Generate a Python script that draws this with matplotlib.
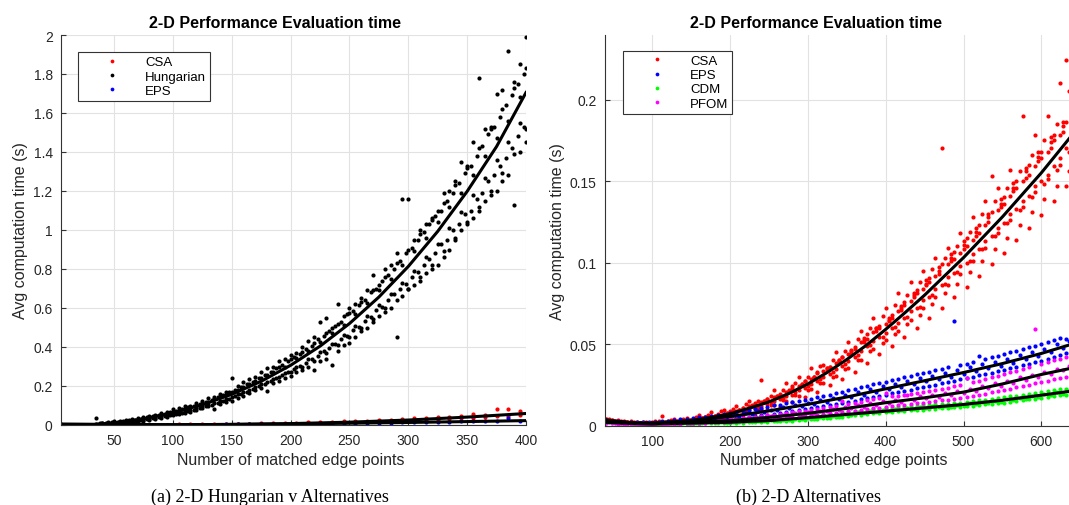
import numpy as np
import matplotlib.pyplot as plt
from matplotlib.ticker import FuncFormatter

plt.rcParams['font.family'] = ['Liberation Sans', 'DejaVu Sans']

# ---------------- left panel: Hungarian vs alternatives ----------------
hung_x = np.arange(35, 401, 5)
hung_r1 = [.035, .010, .014, .020, .022, .026, .030, .035, .040, .045,
           .052, .060, .068, .080, .085, .095, .100, .112, .125, .140,
           .145, .160, .170, .240, .200, .220, .235, .245, .270, .290,
           .300, .330, .340, .360, .370, .400, .430, .450, .530, .550,
           .500, .620, .560, .600, .620, .650, .690, .770, .720, .800,
           .820, .880, 1.160, 1.160, .950, 1.000, 1.030, 1.050, 1.100, 1.190,
           1.200, 1.250, 1.350, 1.320, 1.450, 1.780, 1.520, 1.530, 1.700, 1.720,
           1.920, 1.760, 1.850, 1.990]
hung_r2 = [.000, .002, .004, .005, .008, .012, .015, .018, .022, .027,
           .032, .038, .042, .050, .055, .062, .068, .075, .085, .095,
           .080, .110, .118, .125, .140, .150, .165, .180, .190, .175,
           .215, .225, .240, .250, .270, .280, .300, .280, .330, .340,
           .310, .380, .410, .420, .450, .480, .500, .530, .560, .580,
           .600, .450, .660, .700, .720, .740, .780, .800, .820, .860,
           .900, .950, 1.000, 1.030, 1.060, 1.100, 1.150, 1.180, 1.200, 1.250,
           1.280, 1.130, 1.400, 1.450]
hung_r3 = [.006, .008, .010, .013, .017, .020, .025, .028, .034, .040,
           .045, .052, .058, .066, .074, .082, .090, .100, .110, .120,
           .132, .142, .155, .168, .180, .195, .210, .225, .240, .255,
           .272, .300, .300, .340, .345, .375, .380, .420, .425, .470,
           .470, .520, .515, .575, .570, .630, .625, .690, .690, .760,
           .750, .830, .820, .900, .890, .980, .960, 1.060, 1.040, 1.140,
           1.120, 1.230, 1.190, 1.330, 1.280, 1.420, 1.380, 1.520, 1.470, 1.620,
           1.560, 1.730, 1.680, 1.830]
hung_r4 = [.002, .004, .006, .009, .012, .015, .019, .023, .028, .032,
           .038, .044, .050, .057, .063, .070, .078, .086, .095, .104,
           .114, .124, .134, .145, .157, .168, .182, .195, .208, .222,
           .238, .245, .268, .270, .300, .295, .338, .330, .375, .370,
           .415, .410, .460, .450, .510, .500, .560, .545, .615, .600,
           .670, .640, .730, .700, .790, .760, .860, .820, .930, .890,
           1.010, .960, 1.090, 1.040, 1.180, 1.120, 1.265, 1.200, 1.360, 1.290,
           1.450, 1.390, 1.550, 1.520]
hung_x2 = np.arange(38, 401, 5)
hung_r5 = [.008, .009, .013, .016, .020, .024, .028, .033, .039, .046,
           .052, .058, .066, .074, .082, .090, .098, .108, .120, .130,
           .142, .155, .168, .178, .195, .210, .222, .240, .258, .272,
           .290, .310, .330, .350, .365, .392, .405, .440, .455, .480,
           .510, .530, .570, .585, .615, .640, .680, .700, .740, .770,
           .800, .840, .880, .910, .950, .990, 1.030, 1.070, 1.100, 1.150,
           1.190, 1.240, 1.290, 1.330, 1.380, 1.430, 1.490, 1.530, 1.580, 1.640,
           1.690, 1.750, 1.800]
hung_r6 = [.003, .005, .007, .010, .013, .016, .020, .025, .029, .034,
           .040, .046, .051, .057, .064, .071, .079, .087, .095, .104,
           .115, .124, .134, .148, .158, .170, .185, .198, .210, .225,
           .240, .255, .270, .285, .305, .320, .340, .352, .380, .395,
           .415, .440, .455, .485, .505, .535, .555, .590, .605, .640,
           .670, .695, .725, .760, .785, .820, .850, .880, .930, .950,
           1.000, 1.030, 1.080, 1.100, 1.160, 1.190, 1.250, 1.280, 1.330, 1.370,
           1.420, 1.480, 1.530]
hung_fit_x = [35, 50, 75, 100, 125, 150, 175, 200, 225, 250, 275, 300, 325, 350, 375, 400]
hung_fit = [.004, .011, .031, .063, .104, .157, .224, .306, .404, .520, .656, .813, .993,
            1.198, 1.428, 1.705]

alt_x = np.arange(5, 400, 10)
csa_l1 = [.003, .002, .002, .002, .002, .002, .002, .002, .002, .002,
          .003, .003, .004, .004, .005, .006, .007, .008, .009, .010,
          .012, .013, .015, .016, .018, .020, .023, .024, .028, .030,
          .034, .036, .040, .043, .047, .055, .052, .080, .082, .070]
csa_l2 = [.001, .001, .001, .001, .001, .001, .001, .001, .001, .001,
          .001, .001, .001, .002, .002, .003, .003, .004, .004, .005,
          .006, .007, .008, .009, .011, .012, .014, .016, .018, .021,
          .023, .026, .028, .031, .034, .038, .041, .045, .048, .052]
eps_l = [.001, .001, .001, .001, .001, .001, .001, .001, .001, .001,
         .002, .002, .002, .002, .003, .003, .004, .004, .005, .005,
         .006, .006, .007, .008, .009, .010, .010, .011, .012, .013,
         .014, .015, .016, .017, .018, .019, .020, .021, .035, .022]
alt_fit_x = [5, 50, 100, 150, 200, 250, 300, 350, 400]
csa_fit_l = [.004, .003, .0013, .003, .0072, .0145, .0255, .0405, .059]
eps_fit_l = [.004, .002, .0015, .003, .0055, .009, .013, .0175, .0225]

# ---------------- right panel: alternatives ----------------
rx = np.arange(40, 633, 8)
rx2 = np.arange(44, 637, 8)
csa_r1 = [.0040, .0032, .0032, .0025, .0028, .0020, .0024, .0018, .0025, .0060,
          .0025, .0038, .0030, .0048, .0040, .0062, .0052, .0080, .0068, .0095,
          .0085, .0120, .0105, .0150, .0130, .0280, .0165, .0215, .0190, .0260,
          .0240, .0300, .0270, .0355, .0330, .0370, .0360, .0450, .0420, .0510,
          .0470, .0580, .0530, .0660, .0600, .0720, .0660, .0810, .0740, .0880,
          .0810, .0950, .0880, .1030, .1700, .1090, .1020, .1180, .1100, .1280,
          .1180, .1380, .1530, .1460, .1360, .1570, .1460, .1900, .1540, .1780,
          .1640, .1900, .1750, .2100, .2240]
csa_r2 = [.0025, .0020, .0019, .0013, .0013, .0009, .0011, .0008, .0009, .0012,
          .0011, .0016, .0015, .0021, .0018, .0028, .0027, .0038, .0036, .0050,
          .0048, .0064, .0062, .0082, .0079, .0102, .0096, .0124, .0115, .0150,
          .0142, .0182, .0172, .0222, .0205, .0262, .0248, .0305, .0285, .0350,
          .0330, .0400, .0385, .0470, .0440, .0525, .0490, .0580, .0540, .0650,
          .0600, .0720, .0660, .0790, .0720, .0860, .0790, .0930, .0850, .1010,
          .0920, .1090, .0990, .1180, .1060, .1260, .1140, .1340, .1210, .1430,
          .1290, .1510, .1380, .1600, .1470]
csa_r3 = [.0037, .0028, .0026, .0021, .0019, .0013, .0017, .0012, .0016, .0013,
          .0022, .0019, .0029, .0025, .0037, .0034, .0051, .0046, .0066, .0060,
          .0086, .0079, .0110, .0100, .0135, .0122, .0165, .0150, .0195, .0180,
          .0232, .0215, .0275, .0255, .0322, .0300, .0360, .0345, .0418, .0395,
          .0480, .0455, .0560, .0520, .0610, .0570, .0680, .0630, .0755, .0700,
          .0830, .0770, .0905, .0840, .0990, .0910, .1065, .0980, .1150, .1050,
          .1230, .1130, .1310, .1210, .1400, .1300, .1500, .1380, .1600, .1470,
          .1680, .1540, .1780, .1640, .1860]
csa_r4 = [.0030, .0033, .0020, .0024, .0014, .0018, .0011, .0016, .0010, .0018,
          .0014, .0025, .0020, .0032, .0026, .0043, .0038, .0058, .0050, .0073,
          .0064, .0092, .0085, .0118, .0108, .0145, .0132, .0172, .0160, .0205,
          .0190, .0240, .0228, .0285, .0270, .0335, .0318, .0385, .0365, .0440,
          .0420, .0510, .0485, .0575, .0545, .0625, .0600, .0700, .0660, .0765,
          .0720, .0840, .0790, .0915, .0860, .0990, .0935, .1060, .1000, .1140,
          .1080, .1230, .1160, .1320, .1240, .1410, .1330, .1500, .1410, .1590,
          .1500, .1680, .1590, .1780, .1700]
csa_r5 = [.0042, .0030, .0030, .0022, .0024, .0018, .0022, .0020, .0026, .0022,
          .0032, .0028, .0040, .0036, .0052, .0046, .0066, .0058, .0090, .0078,
          .0104, .0095, .0130, .0120, .0150, .0150, .0180, .0178, .0220, .0210,
          .0260, .0250, .0300, .0295, .0365, .0340, .0400, .0395, .0460, .0445,
          .0530, .0510, .0600, .0580, .0670, .0640, .0740, .0710, .0800, .0790,
          .0880, .0860, .0960, .0930, .1030, .1010, .1100, .1080, .1190, .1160,
          .1300, .1250, .1380, .1340, .1460, .1440, .1560, .1520, .1660, .1620,
          .1750, .1700, .1850, .1800, .2050]
csa_r6 = [.0028, .0024, .0018, .0019, .0012, .0015, .0010, .0016, .0011, .0019,
          .0015, .0026, .0021, .0034, .0028, .0046, .0039, .0060, .0052, .0078,
          .0066, .0098, .0086, .0124, .0108, .0150, .0128, .0180, .0158, .0215,
          .0185, .0255, .0220, .0300, .0262, .0350, .0300, .0400, .0345, .0465,
          .0400, .0535, .0455, .0600, .0505, .0660, .0560, .0735, .0620, .0810,
          .0680, .0890, .0745, .0970, .0810, .1050, .0870, .1130, .0940, .1210,
          .1010, .1300, .1080, .1390, .1150, .1490, .1230, .1580, .1310, .1680,
          .1390, .1770, .1470, .1860, .1560]
csa_r7 = [.0034, .0029, .0020, .0019, .0015, .0016, .0012, .0015, .0013, .0018,
          .0017, .0024, .0023, .0031, .0032, .0043, .0044, .0057, .0057, .0072,
          .0074, .0094, .0096, .0120, .0118, .0146, .0142, .0176, .0170, .0212,
          .0204, .0252, .0242, .0298, .0285, .0350, .0330, .0400, .0378, .0460,
          .0430, .0525, .0495, .0600, .0545, .0650, .0605, .0720, .0665, .0800,
          .0730, .0870, .0800, .0950, .0870, .1030, .0940, .1110, .1010, .1190,
          .1080, .1280, .1160, .1360, .1240, .1460, .1320, .1560, .1400, .1650,
          .1480, .1740, .1570, .1840, .1680]
eps_r1 = [.0035, .0030, .0026, .0023, .0020, .0020, .0021, .0022, .0024, .0027,
          .0030, .0033, .0037, .0041, .0045, .0050, .0055, .0060, .0065, .0070,
          .0074, .0080, .0087, .0093, .0100, .0106, .0113, .0125, .0128, .0135,
          .0142, .0150, .0157, .0165, .0172, .0180, .0188, .0200, .0205, .0215,
          .0225, .0235, .0245, .0252, .0260, .0268, .0278, .0286, .0296, .0304,
          .0313, .0325, .0330, .0340, .0348, .0356, .0640, .0372, .0380, .0390,
          .0426, .0408, .0418, .0428, .0438, .0448, .0458, .0470, .0480, .0490,
          .0500, .0512, .0522, .0535, .0530]
eps_r2 = [.0025, .0022, .0018, .0015, .0013, .0011, .0010, .0010, .0011, .0012,
          .0013, .0015, .0017, .0019, .0021, .0024, .0027, .0030, .0033, .0036,
          .0040, .0044, .0048, .0052, .0057, .0062, .0067, .0072, .0078, .0083,
          .0089, .0094, .0100, .0106, .0112, .0118, .0125, .0131, .0138, .0145,
          .0152, .0160, .0167, .0174, .0182, .0190, .0197, .0205, .0213, .0220,
          .0228, .0236, .0244, .0251, .0259, .0267, .0275, .0283, .0291, .0299,
          .0308, .0316, .0325, .0333, .0342, .0351, .0360, .0369, .0378, .0388,
          .0398, .0410, .0422, .0435, .0447]
eps_r3 = [.0030, .0022, .0022, .0016, .0017, .0014, .0017, .0014, .0019, .0018,
          .0024, .0021, .0029, .0027, .0036, .0034, .0045, .0042, .0053, .0050,
          .0062, .0060, .0074, .0070, .0087, .0082, .0098, .0095, .0112, .0106,
          .0126, .0118, .0140, .0132, .0154, .0145, .0170, .0160, .0186, .0176,
          .0205, .0190, .0222, .0206, .0240, .0222, .0256, .0238, .0273, .0255,
          .0290, .0270, .0305, .0286, .0322, .0300, .0340, .0316, .0356, .0333,
          .0375, .0350, .0392, .0366, .0410, .0385, .0432, .0405, .0452, .0428,
          .0470, .0450, .0500, .0475, .0520]
cdm_r1 = [.0024, .0022, .0020, .0018, .0017, .0016, .0015, .0014, .0014, .0015,
          .0016, .0017, .0018, .0019, .0020, .0021, .0022, .0023, .0024, .0025,
          .0026, .0027, .0029, .0031, .0033, .0035, .0037, .0040, .0042, .0045,
          .0047, .0050, .0053, .0057, .0060, .0064, .0068, .0073, .0077, .0082,
          .0087, .0092, .0097, .0101, .0104, .0107, .0110, .0113, .0115, .0118,
          .0120, .0123, .0126, .0129, .0132, .0134, .0138, .0141, .0145, .0149,
          .0154, .0159, .0163, .0168, .0173, .0178, .0183, .0188, .0194, .0199,
          .0203, .0210, .0216, .0222, .0227]
cdm_r2 = [.0016, .0014, .0012, .0010, .0009, .0008, .0007, .0006, .0006, .0007,
          .0008, .0009, .0010, .0011, .0011, .0012, .0013, .0013, .0014, .0014,
          .0015, .0016, .0017, .0019, .0020, .0022, .0023, .0025, .0027, .0028,
          .0030, .0032, .0034, .0037, .0040, .0043, .0047, .0051, .0055, .0059,
          .0063, .0067, .0072, .0076, .0079, .0082, .0085, .0088, .0090, .0093,
          .0095, .0097, .0100, .0103, .0105, .0108, .0111, .0114, .0117, .0121,
          .0125, .0129, .0133, .0137, .0141, .0146, .0151, .0156, .0160, .0165,
          .0170, .0175, .0180, .0185, .0190]
cdm_r3 = [.0021, .0015, .0017, .0011, .0014, .0009, .0012, .0008, .0012, .0009,
          .0014, .0011, .0016, .0012, .0017, .0014, .0019, .0015, .0020, .0017,
          .0022, .0019, .0025, .0022, .0028, .0025, .0032, .0029, .0036, .0033,
          .0041, .0037, .0046, .0042, .0052, .0048, .0061, .0055, .0069, .0064,
          .0080, .0074, .0088, .0082, .0095, .0090, .0100, .0095, .0106, .0101,
          .0112, .0106, .0117, .0111, .0122, .0116, .0128, .0122, .0135, .0129,
          .0143, .0137, .0152, .0145, .0160, .0154, .0171, .0163, .0181, .0174,
          .0192, .0186, .0203, .0196, .0212]
pfom_r1 = [.0024, .0022, .0020, .0018, .0017, .0016, .0015, .0014, .0014, .0016,
           .0018, .0020, .0022, .0024, .0026, .0028, .0031, .0033, .0035, .0037,
           .0039, .0042, .0046, .0050, .0054, .0058, .0062, .0067, .0072, .0077,
           .0082, .0087, .0092, .0097, .0103, .0109, .0115, .0121, .0150, .0134,
           .0140, .0147, .0154, .0160, .0166, .0200, .0178, .0184, .0190, .0196,
           .0202, .0208, .0214, .0220, .0226, .0232, .0240, .0248, .0290, .0266,
           .0276, .0286, .0296, .0306, .0316, .0326, .0336, .0348, .0360, .0590,
           .0380, .0390, .0400, .0410, .0420]
pfom_r2 = [.0016, .0014, .0012, .0011, .0010, .0009, .0008, .0007, .0007, .0008,
           .0010, .0011, .0012, .0014, .0015, .0016, .0018, .0019, .0020, .0022,
           .0023, .0025, .0028, .0031, .0034, .0036, .0039, .0042, .0045, .0048,
           .0052, .0055, .0058, .0062, .0066, .0070, .0074, .0078, .0083, .0087,
           .0091, .0096, .0101, .0105, .0110, .0115, .0119, .0124, .0128, .0133,
           .0137, .0141, .0146, .0150, .0155, .0159, .0164, .0169, .0175, .0182,
           .0189, .0196, .0204, .0211, .0218, .0226, .0234, .0243, .0251, .0260,
           .0268, .0276, .0284, .0292, .0300]
pfom_r3 = [.0021, .0015, .0017, .0011, .0014, .0009, .0012, .0008, .0013, .0011,
           .0017, .0014, .0020, .0017, .0024, .0020, .0028, .0023, .0031, .0027,
           .0035, .0031, .0042, .0038, .0049, .0044, .0056, .0051, .0066, .0059,
           .0074, .0067, .0083, .0076, .0092, .0086, .0103, .0096, .0114, .0106,
           .0124, .0116, .0136, .0128, .0148, .0137, .0158, .0146, .0190, .0156,
           .0178, .0166, .0188, .0176, .0198, .0186, .0210, .0198, .0224, .0212,
           .0240, .0228, .0258, .0245, .0272, .0262, .0295, .0282, .0312, .0300,
           .0330, .0318, .0348, .0338, .0365]

csa_fit_x = [40, 60, 80, 100, 125, 150, 175, 200, 225, 250, 275, 300, 325, 350, 375,
             400, 425, 450, 475, 500, 525, 550, 575, 600, 640]
csa_fit = [.0035, .0022, .0015, .0013, .0019, .0030, .0049, .0072, .0107, .0145, .0195,
           .0255, .0326, .0405, .0492, .0590, .0693, .0800, .0915, .1030, .1155, .1280,
           .1415, .1550, .1785]
lin_fit_x = [40, 80, 100, 150, 200, 250, 300, 350, 400, 450, 500, 550, 600, 640]
eps_fit = [.003, .0015, .0015, .003, .0055, .009, .013, .0175, .0225, .0275, .0325, .038,
           .0442, .050]
pfom_fit = [.002, .0012, .001, .002, .003, .005, .0075, .0105, .014, .017, .0205, .0255,
            .0313, .0353]
cdm_fit = [.002, .0012, .001, .0015, .002, .003, .0048, .0068, .0088, .0108, .0129, .0155,
           .0186, .0212]

fig = plt.figure(figsize=(10.69, 5.06), dpi=100)
ax1 = fig.add_axes([61 / 1069, 80 / 506, 465 / 1069, 390 / 506])
ax2 = fig.add_axes([605 / 1069, 79.5 / 506, 464 / 1069, 390.5 / 506])

txt = '#262626'
dot = dict(ls='none', marker='o', ms=3.0, mec='none')


def style(ax):
    ax.grid(True, color='#e2e2e2', lw=0.8)
    ax.set_axisbelow(True)
    for s in ['top', 'right']:
        ax.spines[s].set_visible(False)
    for s in ['left', 'bottom']:
        ax.spines[s].set_color('#333333')
        ax.spines[s].set_linewidth(0.8)
    ax.tick_params(direction='in', length=3.5, width=0.8, colors='#333333',
                   labelcolor=txt, labelsize=10, pad=6)
    ax.yaxis.set_major_formatter(FuncFormatter(lambda v, p: f'{v:g}'))


# left
style(ax1)
ax1.plot(np.tile(alt_x, 2), csa_l1 + csa_l2, color='red', label='CSA', **dot)
ax1.plot(np.concatenate([np.tile(hung_x, 4), np.tile(hung_x2, 2)]),
         hung_r1 + hung_r2 + hung_r3 + hung_r4 + hung_r5 + hung_r6,
         color='black', label='Hungarian', **dot)
ax1.plot(alt_x, eps_l, color='blue', label='EPS', **dot)
ax1.plot(hung_fit_x, hung_fit, color='black', lw=2.2)
ax1.plot(alt_fit_x, csa_fit_l, color='black', lw=2.2)
ax1.plot(alt_fit_x, eps_fit_l, color='black', lw=2.2)
ax1.set_xlim(5, 400)
ax1.set_ylim(0, 2)
ax1.set_xticks(np.arange(50, 401, 50))
ax1.set_yticks(np.arange(0, 2.01, 0.2))
ax1.set_title('2-D Performance Evaluation time', fontsize=11.5, fontweight='bold',
              x=0.46, pad=6)
ax1.set_xlabel('Number of matched edge points', fontsize=11.5, color=txt)
ax1.set_ylabel('Avg computation time (s)', fontsize=11.5, color=txt)
ax1.xaxis.set_label_coords(0.495, -0.068)
ax1.yaxis.set_label_coords(-0.071, 0.5)

# right
style(ax2)
ax2.plot(np.concatenate([np.tile(rx, 4), np.tile(rx2, 3)]),
         csa_r1 + csa_r2 + csa_r3 + csa_r4 + csa_r5 + csa_r6 + csa_r7,
         color='red', label='CSA', **dot)
ax2.plot(np.concatenate([rx, rx, rx2]), eps_r1 + eps_r2 + eps_r3, color='blue',
         label='EPS', **dot)
ax2.plot(np.concatenate([rx, rx, rx2]), cdm_r1 + cdm_r2 + cdm_r3, color='#00ff00',
         label='CDM', **dot)
ax2.plot(np.concatenate([rx, rx, rx2]), pfom_r1 + pfom_r2 + pfom_r3, color='magenta',
         label='PFOM', **dot)
ax2.plot(csa_fit_x, csa_fit, color='black', lw=2.2)
ax2.plot(lin_fit_x, eps_fit, color='black', lw=2.2)
ax2.plot(lin_fit_x, pfom_fit, color='black', lw=2.2)
ax2.plot(lin_fit_x, cdm_fit, color='black', lw=2.2)
ax2.set_xlim(39.2, 635.6)
ax2.set_ylim(0, 0.2396)
ax2.set_xticks(np.arange(100, 601, 100))
ax2.set_yticks([0, 0.05, 0.1, 0.15, 0.2])
ax2.set_title('2-D Performance Evaluation time', fontsize=11.5, fontweight='bold',
              x=0.455, pad=6)
ax2.set_xlabel('Number of matched edge points', fontsize=11.5, color=txt)
ax2.set_ylabel('Avg computation time (s)', fontsize=11.5, color=txt)
ax2.xaxis.set_label_coords(0.494, -0.068)
ax2.yaxis.set_label_coords(-0.086, 0.5)

for ax, anchor in [(ax1, (0.0366, 0.956)), (ax2, (0.038, 0.9595))]:
    leg = ax.legend(loc='upper left', bbox_to_anchor=anchor, borderaxespad=0,
                    fontsize=9.5, numpoints=1, handlelength=4.6, handletextpad=0.2,
                    labelspacing=0.15, borderpad=0.3, fancybox=False, framealpha=1,
                    edgecolor='#333333', markerscale=0.9)
    leg.get_frame().set_linewidth(0.8)

fig.text(270 / 1069, 1 - 497 / 506, '(a) 2-D Hungarian v Alternatives',
         family='Liberation Serif', fontsize=13, ha='center', va='center')
fig.text(808 / 1069, 1 - 497 / 506, '(b) 2-D Alternatives',
         family='Liberation Serif', fontsize=13, ha='center', va='center')

fig.savefig('out.png', dpi=100)
